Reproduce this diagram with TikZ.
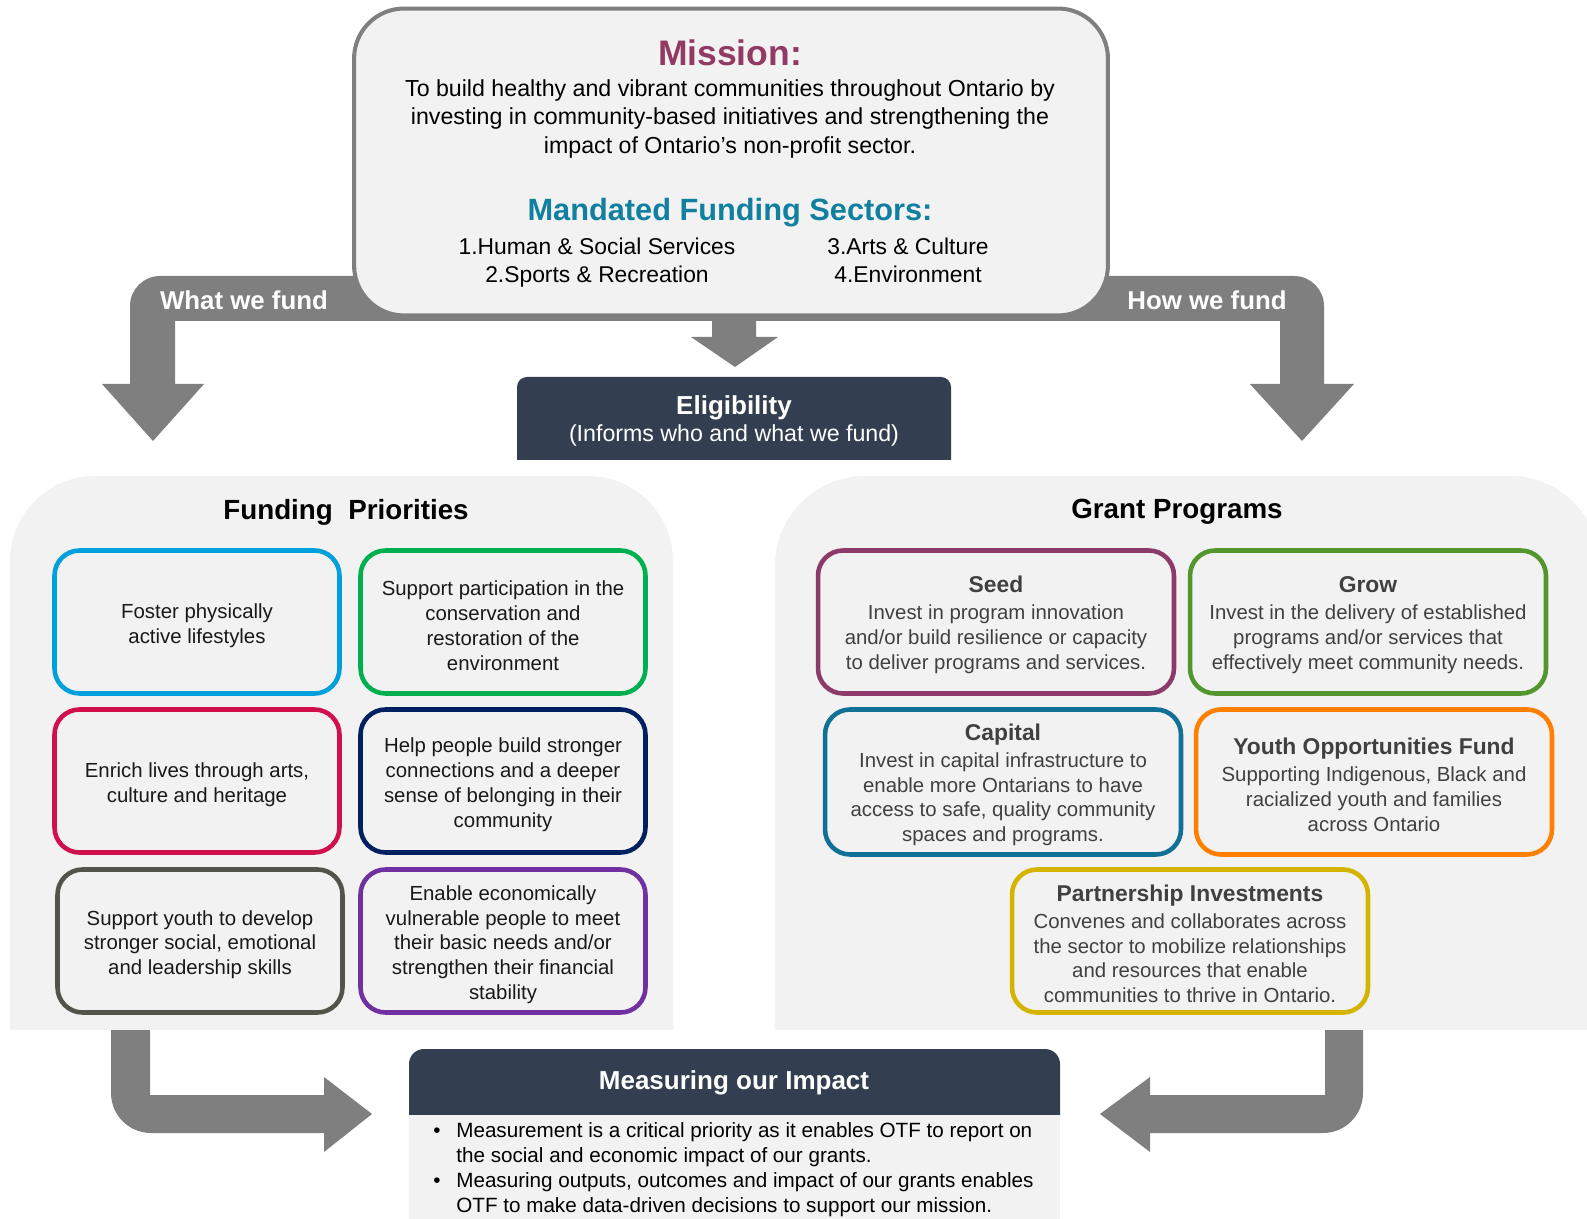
\documentclass[tikz,border=0pt]{standalone}
\usepackage{fontspec}
\setmainfont{Liberation Sans}
\usepackage{tikz}
\definecolor{otfgray}{RGB}{127,127,127}
\definecolor{otflight}{RGB}{242,242,242}
\definecolor{otfnavy}{RGB}{51,63,80}
\definecolor{missionred}{RGB}{146,58,98}
\definecolor{sectorteal}{RGB}{16,127,160}
\definecolor{prioblue}{RGB}{0,160,220}
\definecolor{priogreen}{RGB}{0,176,80}
\definecolor{priored}{RGB}{208,16,76}
\definecolor{prionavy}{RGB}{0,32,96}
\definecolor{priogray}{RGB}{82,83,74}
\definecolor{priopurple}{RGB}{112,48,160}
\definecolor{seedc}{RGB}{140,58,105}
\definecolor{growc}{RGB}{83,150,45}
\definecolor{capitalc}{RGB}{16,112,150}
\definecolor{youthc}{RGB}{255,128,0}
\definecolor{partnerc}{RGB}{212,180,0}
\definecolor{bodytext}{RGB}{64,64,64}
\newcommand{\bodysize}{\fontsize{11.6}{14.1}\selectfont}
\newcommand{\grantsize}{\fontsize{13}{15}\selectfont\bfseries}
\newcommand{\panelsize}{\fontsize{15.8}{18}\selectfont\bfseries}
\newcommand{\bandsize}{\fontsize{14.7}{17}\selectfont\bfseries}
\newcommand{\topstrut}{\rule{0pt}{12.5pt}}
\tikzstyle{prio}=[draw, line width=2.6pt, rounded corners=0.5cm, minimum width=5.7cm, minimum height=2.86cm, align=center, font=\bodysize, text=black!90, inner sep=2pt]
\tikzstyle{grant}=[prio, minimum width=7.12cm, text=bodytext]
\tikzstyle{bandlabel}=[text=white, font=\bandsize]
\tikzstyle{paneltitle}=[font=\panelsize]

\begin{document}
\begin{tikzpicture}[x=0.02cm, y=-0.02cm]
\clip (0,0) rectangle (1587,1219);
\fill[otfgray] (111,1020) -- (111,1093) arc[start angle=180, end angle=90, radius=40] -- (324,1133) -- (324,1152) -- (372,1114) -- (324,1077) -- (324,1095) -- (150,1095) -- (150,1020) -- cycle;
\fill[otfgray] (1363,1020) -- (1363,1093) arc[start angle=0, end angle=90, radius=40] -- (1150,1133) -- (1150,1152) -- (1100,1114) -- (1150,1077) -- (1150,1095) -- (1325,1095) -- (1325,1020) -- cycle;
\begin{scope}
\clip (0,0) rectangle (1587,1029);
\fill[otflight, rounded corners=1.7cm] (10,476) rectangle (673,1200);
\fill[otflight, rounded corners=1.8cm] (775,476) rectangle (1600,1200);
\end{scope}
\fill[otfgray] (102,384) -- (130,384) -- (130,306) arc[start angle=180, end angle=270, radius=30] -- (1294,276) arc[start angle=270, end angle=360, radius=30] -- (1324,384) -- (1354,384) -- (1302,441) -- (1250,384) -- (1280,384) -- (1280,321) -- (175,321) -- (175,384) -- (204,384) -- (153,441) -- cycle;
\fill[otfgray] (712,310) -- (712,337) -- (691,337) -- (735,367) -- (778,337) -- (756,337) -- (756,310) -- cycle;

\node[draw=otfgray, fill=otflight, line width=2.3pt, rounded corners=1cm, minimum width=15.08cm, minimum height=6.14cm] (mission) at (731,162) {};
\node[text=missionred, font=\fontsize{20.2}{24}\selectfont\bfseries] (missiontitle) at (730,53) {Mission:};
\node[align=center, font=\fontsize{13.2}{16.1}\selectfont] (missiontext) at (730,119) {To build healthy and vibrant communities throughout Ontario by\\investing in community-based initiatives and strengthening the\\impact of Ontario’s non-profit sector.};
\node[text=sectorteal, font=\fontsize{17.5}{21}\selectfont\bfseries] (sectorstitle) at (730,213) {Mandated Funding Sectors:};
\node[align=center, font=\fontsize{13}{16}\selectfont] (sectorsA) at (597,263) {1.Human \& Social Services\\2.Sports \& Recreation};
\node[align=center, font=\fontsize{13}{16}\selectfont] (sectorsB) at (908,260) {3.Arts \& Culture\\4.Environment};
\node[bandlabel] (whatlabel) at (244,300) {What we fund};
\node[bandlabel] (howlabel) at (1207,300) {How we fund};

\begin{scope}
\clip (0,0) rectangle (1587,460);
\fill[otfnavy, rounded corners=0.2cm] (517,377) rectangle (951,480);
\end{scope}
\node[text=white, align=center, font=\fontsize{13.2}{15}\selectfont] (elig) at (734,421) {{\fontsize{14.8}{15}\selectfont\bfseries Eligibility}\\(Informs who and what we fund)};

\node[paneltitle] (priotitle) at (346,512) {Funding~~Priorities};
\node[paneltitle] (granttitle) at (1177,512) {Grant Programs};

\node[prio, draw=prioblue] (active) at (197,622) {\topstrut Foster physically\\active lifestyles};
\node[prio, draw=priogreen] (environment) at (503,622) {\topstrut Support participation in the\\conservation and\\restoration of the\\environment};
\node[prio, draw=priored] (arts) at (197,781) {\topstrut Enrich lives through arts,\\culture and heritage};
\node[prio, draw=prionavy] (belonging) at (503,781) {\topstrut Help people build stronger\\connections and a deeper\\sense of belonging in their\\community};
\node[prio, draw=priogray] (youthskills) at (200,941) {\topstrut Support youth to develop\\stronger social, emotional\\and leadership skills};
\node[prio, draw=priopurple] (vulnerable) at (503,941) {\topstrut Enable economically\\vulnerable people to meet\\their basic needs and/or\\strengthen their financial\\stability};

\node[grant, draw=seedc] (seed) at (996,622) {\topstrut{\grantsize Seed}\\[1.5pt]Invest in program innovation\\and/or build resilience or capacity\\to deliver programs and services.};
\node[grant, draw=growc] (grow) at (1368,622) {\topstrut{\grantsize Grow}\\[1.5pt]Invest in the delivery of established\\programs and/or services that\\effectively meet community needs.};
\node[grant, draw=capitalc, minimum height=2.9cm] (capital) at (1003,782) {\topstrut{\grantsize Capital}\\[1.5pt]Invest in capital infrastructure to\\enable more Ontarians to have\\access to safe, quality community\\spaces and programs.};
\node[grant, draw=youthc, minimum height=2.9cm] (yof) at (1374,782) {\topstrut{\grantsize Youth Opportunities Fund}\\[1.5pt]Supporting Indigenous, Black and\\racialized youth and families\\across Ontario};
\node[grant, draw=partnerc] (partnership) at (1190,941) {\topstrut{\grantsize Partnership Investments}\\[1.5pt]Convenes and collaborates across\\the sector to mobilize relationships\\and resources that enable\\communities to thrive in Ontario.};

\begin{scope}
\clip (0,0) rectangle (1587,1115);
\fill[otfnavy, rounded corners=0.3cm] (409,1049) rectangle (1060,1200);
\end{scope}
\fill[otflight] (409,1115) rectangle (1060,1230);
\node[text=white, font=\fontsize{14.8}{17}\selectfont\bfseries] (impact) at (734,1083) {Measuring our Impact};
\node[anchor=north west, inner sep=0pt, align=left, font=\fontsize{11.75}{14.2}\selectfont] (impacttext) at (433,1122) {\makebox[0.46cm][l]{\textbullet}Measurement is a critical priority as it enables OTF to report on\\\hspace*{0.46cm}the social and economic impact of our grants.\\\makebox[0.46cm][l]{\textbullet}Measuring outputs, outcomes and impact of our grants enables\\\hspace*{0.46cm}OTF to make data-driven decisions to support our mission.};
\end{tikzpicture}
\end{document}
